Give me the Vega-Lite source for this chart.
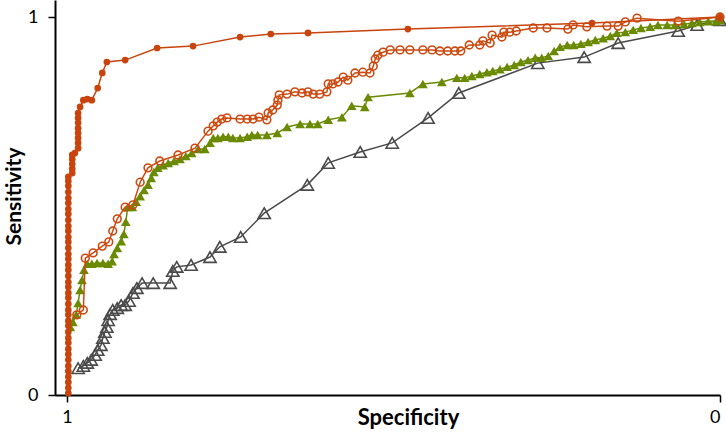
{
  "$schema": "https://vega.github.io/schema/vega-lite/v6.json",
  "width": 665,
  "height": 395,
  "autosize": {"type": "none"},
  "padding": {"left": 55, "top": 0, "right": 6, "bottom": 45},
  "background": "white",
  "config": {"view": {"stroke": null}},
  "datasets": {
    "A": [
      {"spec": 0.998, "sens": 0.005}, {"spec": 0.998, "sens": 0.019}, {"spec": 0.998, "sens": 0.034}, {"spec": 0.998, "sens": 0.048},
      {"spec": 0.998, "sens": 0.063}, {"spec": 0.998, "sens": 0.077}, {"spec": 0.998, "sens": 0.093}, {"spec": 0.998, "sens": 0.108},
      {"spec": 0.998, "sens": 0.122}, {"spec": 0.998, "sens": 0.138}, {"spec": 0.998, "sens": 0.151}, {"spec": 0.998, "sens": 0.167},
      {"spec": 0.998, "sens": 0.183}, {"spec": 0.998, "sens": 0.196}, {"spec": 0.998, "sens": 0.212}, {"spec": 0.998, "sens": 0.225},
      {"spec": 0.998, "sens": 0.241}, {"spec": 0.998, "sens": 0.257}, {"spec": 0.998, "sens": 0.270}, {"spec": 0.998, "sens": 0.286},
      {"spec": 0.998, "sens": 0.299}, {"spec": 0.998, "sens": 0.315}, {"spec": 0.998, "sens": 0.331}, {"spec": 0.998, "sens": 0.344},
      {"spec": 0.998, "sens": 0.360}, {"spec": 0.998, "sens": 0.373}, {"spec": 0.998, "sens": 0.389}, {"spec": 0.998, "sens": 0.405},
      {"spec": 0.998, "sens": 0.418}, {"spec": 0.998, "sens": 0.434}, {"spec": 0.998, "sens": 0.447}, {"spec": 0.998, "sens": 0.463},
      {"spec": 0.998, "sens": 0.479}, {"spec": 0.998, "sens": 0.492}, {"spec": 0.998, "sens": 0.508}, {"spec": 0.998, "sens": 0.521},
      {"spec": 0.998, "sens": 0.537}, {"spec": 0.998, "sens": 0.553}, {"spec": 0.998, "sens": 0.566}, {"spec": 0.998, "sens": 0.577},
      {"spec": 0.992, "sens": 0.587}, {"spec": 0.992, "sens": 0.598}, {"spec": 0.992, "sens": 0.611}, {"spec": 0.992, "sens": 0.624},
      {"spec": 0.992, "sens": 0.635}, {"spec": 0.988, "sens": 0.640},
      {"spec": 0.983, "sens": 0.653}, {"spec": 0.983, "sens": 0.667}, {"spec": 0.983, "sens": 0.680}, {"spec": 0.983, "sens": 0.693},
      {"spec": 0.983, "sens": 0.706}, {"spec": 0.983, "sens": 0.720}, {"spec": 0.983, "sens": 0.733}, {"spec": 0.983, "sens": 0.746},
      {"spec": 0.980, "sens": 0.762}, {"spec": 0.975, "sens": 0.780}, {"spec": 0.969, "sens": 0.783}, {"spec": 0.962, "sens": 0.780},
      {"spec": 0.953, "sens": 0.812}, {"spec": 0.946, "sens": 0.852}, {"spec": 0.939, "sens": 0.881}, {"spec": 0.911, "sens": 0.886},
      {"spec": 0.862, "sens": 0.918}, {"spec": 0.807, "sens": 0.923}, {"spec": 0.735, "sens": 0.947}, {"spec": 0.688, "sens": 0.955},
      {"spec": 0.631, "sens": 0.958}, {"spec": 0.478, "sens": 0.968}, {"spec": 0.196, "sens": 0.984}, {"spec": 0.0, "sens": 1.0}
    ],
    "B": [
      {"spec": 0.985, "sens": 0.212}, {"spec": 0.975, "sens": 0.225}, {"spec": 0.972, "sens": 0.362}, {"spec": 0.960, "sens": 0.376},
      {"spec": 0.946, "sens": 0.394}, {"spec": 0.936, "sens": 0.405}, {"spec": 0.930, "sens": 0.434}, {"spec": 0.923, "sens": 0.466},
      {"spec": 0.911, "sens": 0.497}, {"spec": 0.899, "sens": 0.503}, {"spec": 0.888, "sens": 0.563}, {"spec": 0.876, "sens": 0.601},
      {"spec": 0.858, "sens": 0.619}, {"spec": 0.830, "sens": 0.635}, {"spec": 0.804, "sens": 0.653}, {"spec": 0.784, "sens": 0.698},
      {"spec": 0.776, "sens": 0.712}, {"spec": 0.770, "sens": 0.722}, {"spec": 0.763, "sens": 0.730}, {"spec": 0.755, "sens": 0.733},
      {"spec": 0.735, "sens": 0.730}, {"spec": 0.724, "sens": 0.730}, {"spec": 0.715, "sens": 0.730}, {"spec": 0.706, "sens": 0.735},
      {"spec": 0.694, "sens": 0.728}, {"spec": 0.692, "sens": 0.746}, {"spec": 0.685, "sens": 0.754}, {"spec": 0.678, "sens": 0.767},
      {"spec": 0.677, "sens": 0.780}, {"spec": 0.675, "sens": 0.794}, {"spec": 0.663, "sens": 0.796}, {"spec": 0.651, "sens": 0.802},
      {"spec": 0.640, "sens": 0.799}, {"spec": 0.631, "sens": 0.802}, {"spec": 0.623, "sens": 0.796}, {"spec": 0.613, "sens": 0.796},
      {"spec": 0.602, "sens": 0.802}, {"spec": 0.600, "sens": 0.823}, {"spec": 0.593, "sens": 0.823}, {"spec": 0.585, "sens": 0.828},
      {"spec": 0.577, "sens": 0.841}, {"spec": 0.570, "sens": 0.833}, {"spec": 0.559, "sens": 0.852}, {"spec": 0.547, "sens": 0.854},
      {"spec": 0.536, "sens": 0.852}, {"spec": 0.531, "sens": 0.870}, {"spec": 0.528, "sens": 0.889}, {"spec": 0.524, "sens": 0.899},
      {"spec": 0.516, "sens": 0.907}, {"spec": 0.505, "sens": 0.913}, {"spec": 0.490, "sens": 0.913}, {"spec": 0.475, "sens": 0.913},
      {"spec": 0.455, "sens": 0.913}, {"spec": 0.441, "sens": 0.913}, {"spec": 0.429, "sens": 0.910}, {"spec": 0.417, "sens": 0.910},
      {"spec": 0.406, "sens": 0.910}, {"spec": 0.397, "sens": 0.910}, {"spec": 0.384, "sens": 0.926}, {"spec": 0.368, "sens": 0.926},
      {"spec": 0.363, "sens": 0.937}, {"spec": 0.352, "sens": 0.931}, {"spec": 0.349, "sens": 0.952}, {"spec": 0.334, "sens": 0.947},
      {"spec": 0.331, "sens": 0.960}, {"spec": 0.322, "sens": 0.960}, {"spec": 0.312, "sens": 0.963}, {"spec": 0.286, "sens": 0.971},
      {"spec": 0.265, "sens": 0.971}, {"spec": 0.233, "sens": 0.968}, {"spec": 0.225, "sens": 0.979}, {"spec": 0.204, "sens": 0.974},
      {"spec": 0.173, "sens": 0.976}, {"spec": 0.156, "sens": 0.976}, {"spec": 0.145, "sens": 0.987}, {"spec": 0.127, "sens": 0.997},
      {"spec": 0.064, "sens": 0.989}, {"spec": 0.0, "sens": 1.0}
    ],
    "C": [
      {"spec": 0.995, "sens": 0.180}, {"spec": 0.991, "sens": 0.193}, {"spec": 0.986, "sens": 0.212}, {"spec": 0.983, "sens": 0.243},
      {"spec": 0.980, "sens": 0.278}, {"spec": 0.977, "sens": 0.304}, {"spec": 0.974, "sens": 0.331}, {"spec": 0.969, "sens": 0.347},
      {"spec": 0.962, "sens": 0.347}, {"spec": 0.954, "sens": 0.349}, {"spec": 0.945, "sens": 0.349}, {"spec": 0.937, "sens": 0.347},
      {"spec": 0.931, "sens": 0.354}, {"spec": 0.928, "sens": 0.373}, {"spec": 0.923, "sens": 0.389}, {"spec": 0.917, "sens": 0.407},
      {"spec": 0.913, "sens": 0.426}, {"spec": 0.910, "sens": 0.458}, {"spec": 0.907, "sens": 0.497}, {"spec": 0.900, "sens": 0.497},
      {"spec": 0.894, "sens": 0.511}, {"spec": 0.888, "sens": 0.526}, {"spec": 0.882, "sens": 0.542}, {"spec": 0.876, "sens": 0.556},
      {"spec": 0.871, "sens": 0.574}, {"spec": 0.867, "sens": 0.590}, {"spec": 0.861, "sens": 0.601}, {"spec": 0.853, "sens": 0.608},
      {"spec": 0.845, "sens": 0.614}, {"spec": 0.836, "sens": 0.619}, {"spec": 0.827, "sens": 0.624}, {"spec": 0.818, "sens": 0.632},
      {"spec": 0.809, "sens": 0.640}, {"spec": 0.799, "sens": 0.651}, {"spec": 0.789, "sens": 0.651}, {"spec": 0.781, "sens": 0.667},
      {"spec": 0.776, "sens": 0.680}, {"spec": 0.769, "sens": 0.680}, {"spec": 0.761, "sens": 0.683}, {"spec": 0.753, "sens": 0.683},
      {"spec": 0.746, "sens": 0.680}, {"spec": 0.735, "sens": 0.680}, {"spec": 0.724, "sens": 0.683}, {"spec": 0.717, "sens": 0.688},
      {"spec": 0.708, "sens": 0.688}, {"spec": 0.694, "sens": 0.688}, {"spec": 0.678, "sens": 0.693}, {"spec": 0.663, "sens": 0.709},
      {"spec": 0.643, "sens": 0.717}, {"spec": 0.628, "sens": 0.717}, {"spec": 0.616, "sens": 0.717}, {"spec": 0.600, "sens": 0.728},
      {"spec": 0.579, "sens": 0.735}, {"spec": 0.564, "sens": 0.765}, {"spec": 0.544, "sens": 0.762}, {"spec": 0.539, "sens": 0.788},
      {"spec": 0.475, "sens": 0.799}, {"spec": 0.455, "sens": 0.823}, {"spec": 0.426, "sens": 0.828}, {"spec": 0.403, "sens": 0.839},
      {"spec": 0.391, "sens": 0.839}, {"spec": 0.380, "sens": 0.844}, {"spec": 0.368, "sens": 0.849}, {"spec": 0.357, "sens": 0.854},
      {"spec": 0.348, "sens": 0.857}, {"spec": 0.337, "sens": 0.862}, {"spec": 0.326, "sens": 0.868}, {"spec": 0.315, "sens": 0.873},
      {"spec": 0.305, "sens": 0.881}, {"spec": 0.294, "sens": 0.886}, {"spec": 0.283, "sens": 0.892}, {"spec": 0.273, "sens": 0.892},
      {"spec": 0.263, "sens": 0.897}, {"spec": 0.254, "sens": 0.910}, {"spec": 0.245, "sens": 0.921}, {"spec": 0.234, "sens": 0.926},
      {"spec": 0.224, "sens": 0.926}, {"spec": 0.213, "sens": 0.929}, {"spec": 0.202, "sens": 0.934}, {"spec": 0.191, "sens": 0.939},
      {"spec": 0.179, "sens": 0.944}, {"spec": 0.168, "sens": 0.950}, {"spec": 0.158, "sens": 0.958}, {"spec": 0.145, "sens": 0.960},
      {"spec": 0.133, "sens": 0.966}, {"spec": 0.121, "sens": 0.971}, {"spec": 0.107, "sens": 0.974}, {"spec": 0.095, "sens": 0.979},
      {"spec": 0.081, "sens": 0.979}, {"spec": 0.069, "sens": 0.979}, {"spec": 0.055, "sens": 0.981}, {"spec": 0.043, "sens": 0.984},
      {"spec": 0.031, "sens": 0.987}, {"spec": 0.018, "sens": 0.989}, {"spec": 0.006, "sens": 0.989}, {"spec": 0.0, "sens": 0.992}
    ],
    "D": [
      {"spec": 0.983, "sens": 0.071}, {"spec": 0.975, "sens": 0.077}, {"spec": 0.969, "sens": 0.085}, {"spec": 0.963, "sens": 0.093},
      {"spec": 0.957, "sens": 0.106}, {"spec": 0.953, "sens": 0.119}, {"spec": 0.948, "sens": 0.132}, {"spec": 0.945, "sens": 0.151},
      {"spec": 0.942, "sens": 0.167}, {"spec": 0.939, "sens": 0.180}, {"spec": 0.937, "sens": 0.198}, {"spec": 0.934, "sens": 0.214},
      {"spec": 0.930, "sens": 0.225}, {"spec": 0.923, "sens": 0.230}, {"spec": 0.917, "sens": 0.238}, {"spec": 0.911, "sens": 0.238},
      {"spec": 0.905, "sens": 0.249}, {"spec": 0.899, "sens": 0.270}, {"spec": 0.893, "sens": 0.283}, {"spec": 0.885, "sens": 0.296},
      {"spec": 0.868, "sens": 0.296}, {"spec": 0.842, "sens": 0.296}, {"spec": 0.838, "sens": 0.328}, {"spec": 0.832, "sens": 0.339},
      {"spec": 0.810, "sens": 0.344}, {"spec": 0.781, "sens": 0.365}, {"spec": 0.766, "sens": 0.392}, {"spec": 0.734, "sens": 0.418},
      {"spec": 0.698, "sens": 0.481}, {"spec": 0.632, "sens": 0.556}, {"spec": 0.600, "sens": 0.614}, {"spec": 0.551, "sens": 0.643},
      {"spec": 0.502, "sens": 0.667}, {"spec": 0.447, "sens": 0.733}, {"spec": 0.400, "sens": 0.799}, {"spec": 0.279, "sens": 0.878},
      {"spec": 0.208, "sens": 0.894}, {"spec": 0.156, "sens": 0.931}, {"spec": 0.064, "sens": 0.963}, {"spec": 0.035, "sens": 0.979},
      {"spec": 0.0, "sens": 0.992}
    ]
  },
  "encoding": {
    "x": {
      "field": "spec", "type": "quantitative",
      "scale": {"domain": [1.0184, 0], "nice": false, "zero": false},
      "axis": {
        "values": [1, 0], "format": "d", "grid": false,
        "title": "Specificity",
        "domainColor": "black", "domainWidth": 2, "tickColor": "black", "tickWidth": 1.5, "tickSize": 7,
        "labelFont": "Lato", "labelFontSize": 18, "labelColor": "black", "labelPadding": 6,
        "titleFont": "Lato", "titleFontSize": 22, "titleFontWeight": "bold", "titleColor": "black",
        "titleX": 353, "titleY": 12, "titleBaseline": "top", "titleAlign": "center"
      }
    },
    "y": {
      "field": "sens", "type": "quantitative",
      "scale": {"domain": [0, 1.045], "nice": false, "zero": false},
      "axis": {
        "values": [0, 1], "format": "d", "grid": false,
        "title": "Sensitivity",
        "domainColor": "black", "domainWidth": 2, "tickColor": "black", "tickWidth": 1.5, "tickSize": 7,
        "labelFont": "Lato", "labelFontSize": 18, "labelColor": "black", "labelPadding": 10,
        "titleFont": "Lato", "titleFontSize": 21, "titleFontWeight": "bold", "titleColor": "black",
        "titleX": -41, "titleY": 196, "titleBaseline": "middle", "titleAlign": "center", "titleAngle": -90
      }
    },
    "order": [{"field": "spec", "sort": "descending"}, {"field": "sens", "sort": "ascending"}]
  },
  "layer": [
    {
      "data": {"name": "D"},
      "mark": {"type": "line", "color": "#4a4a4a", "strokeWidth": 1.5, "clip": false,
        "point": {"shape": "triangle-up", "filled": false, "size": 150, "stroke": "#4a4a4a", "strokeWidth": 1.6, "fillOpacity": 0}}
    },
    {
      "data": {"name": "C"},
      "mark": {"type": "line", "color": "#6b8a04", "strokeWidth": 1.5, "clip": false,
        "point": {"shape": "triangle-up", "filled": true, "size": 95, "color": "#6b8a04", "opacity": 1}}
    },
    {
      "data": {"name": "B"},
      "mark": {"type": "line", "color": "#cc4a10", "strokeWidth": 1.5, "clip": false,
        "point": {"shape": "circle", "filled": false, "size": 60, "stroke": "#cc4a10", "strokeWidth": 1.6, "fillOpacity": 0}}
    },
    {
      "data": {"name": "A"},
      "mark": {"type": "line", "color": "#c8440c", "strokeWidth": 1.5, "clip": false,
        "point": {"shape": "circle", "filled": true, "size": 45, "color": "#c8440c", "opacity": 1}}
    }
  ]
}
